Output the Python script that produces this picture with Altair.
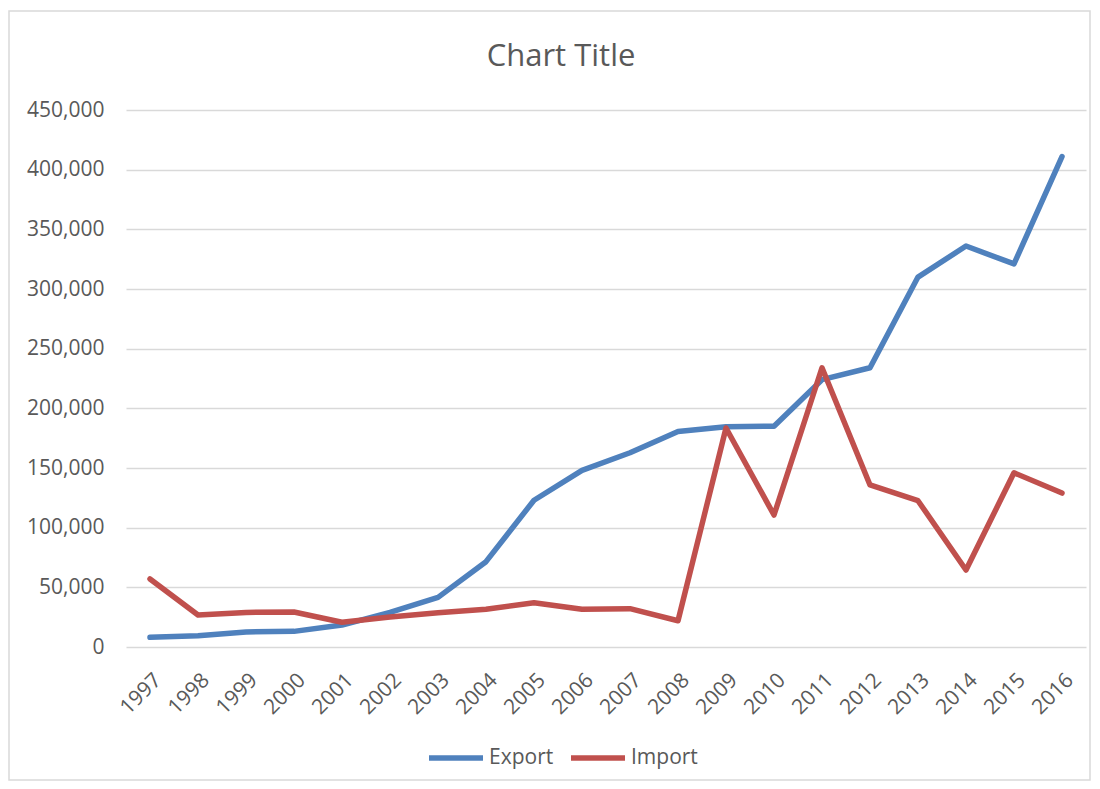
import altair as alt
import pandas as pd

years = [str(y) for y in range(1997, 2017)]
export = [8100, 9500, 12600, 13100, 18400, 29000, 41600, 71500, 123000, 148000,
          162800, 180500, 184600, 185000, 224000, 234000, 310000, 336000, 321000, 411000]
imports = [57000, 26800, 29000, 29300, 20700, 25100, 28700, 31600, 37100, 31600,
           32100, 22000, 183500, 110600, 234000, 135800, 122600, 64500, 146000, 129000]
series = ["Export", "Import"]
colors = ["#4F81BD", "#C0504D"]
title_text = ["Chart Title"]

df = pd.DataFrame({
    "Year": years * 2,
    "Value": export + imports,
    "Series": [series[0]] * len(years) + [series[1]] * len(years),
})

FONT = "Open Sans"
TXT = "#595959"

one = pd.DataFrame({"t": title_text})

border = alt.Chart(one).mark_rect(
    fill="white", fillOpacity=0, stroke="#D9D9D9", strokeWidth=1.5
).encode(x=alt.value(-117), x2=alt.value(964), y=alt.value(-99), y2=alt.value(670))

title = alt.Chart(one).mark_text(
    font=FONT, fontSize=31, color=TXT, align="center", baseline="middle"
).encode(x=alt.value(435), y=alt.value(-53), text="t:N")

lines = alt.Chart(df).mark_line(strokeWidth=5.5, strokeCap="round", strokeJoin="round").encode(
    x=alt.X("Year:O", sort=years, scale=alt.Scale(padding=0.5),
            axis=alt.Axis(title=None, labelAngle=-45, domain=False, ticks=False,
                          labelPadding=22, labelFontSize=21, labelColor=TXT,
                          labelFont=FONT, grid=False)),
    y=alt.Y("Value:Q", scale=alt.Scale(domain=[0, 450000], nice=False),
            axis=alt.Axis(title=None, values=list(range(0, 450001, 50000)), format=",.0f",
                          domain=False, ticks=False, labelPadding=22, labelFontSize=21,
                          labelColor=TXT, labelFont=FONT, gridColor="#D9D9D9",
                          gridWidth=1.5)),
    color=alt.Color("Series:N", scale=alt.Scale(domain=series, range=colors),
                    legend=alt.Legend(title=None, orient="none", legendX=300, legendY=618,
                                      direction="horizontal", symbolType="stroke",
                                      symbolSize=2916, symbolStrokeWidth=5.5,
                                      labelFontSize=21, labelColor=TXT, labelFont=FONT,
                                      columnPadding=6, labelOffset=3)),
)

chart = alt.layer(border, title, lines).properties(
    width=960, height=537,
    padding={"left": 118, "top": 102, "right": 6, "bottom": 134},
    autosize=alt.AutoSizeParams(type="none"),
).configure_view(stroke=None)

chart.save("out.html", embed_options={"renderer": "svg", "actions": False})
